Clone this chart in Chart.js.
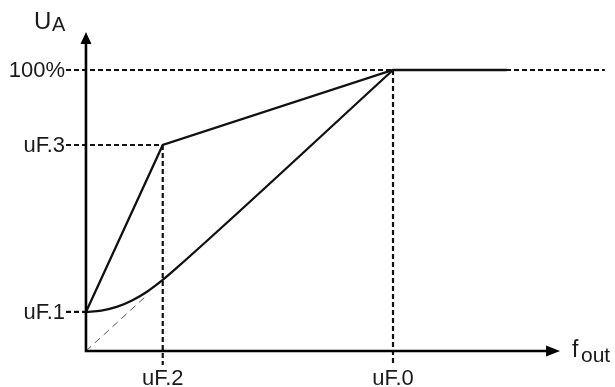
<!DOCTYPE html>
<html>
<head>
<meta charset="utf-8">
<script src="https://cdn.jsdelivr.net/npm/chart.js@4/dist/chart.umd.min.js"></script>
<style>
  html, body { margin: 0; padding: 0; background: #fff; }
  canvas { display: block; }
</style>
</head>
<body>
<canvas id="chart" width="615" height="387"></canvas>
<script>
// levels (x: % of uF.0, y: % of U_A max)
const uF0 = 100;
const uF2 = 25;
const uF1 = 13.9;
const uF3 = 73.3;
const full = 100;

const yTickValues = [full, uF3, uF1];
const yTickLabels = ['100%', 'uF.3', 'uF.1'];
const xTickValues = [uF2, uF0];
const xTickLabels = ['uF.2', 'uF.0'];

// linear V/f characteristic with boost
const lineX = [0, uF2, uF0, 137];
const lineY = [uF1, uF3, full, full];

// quadratic characteristic, starting at uF.1
const curveX = [0, 5, 10, 15, 20, 25, 30, uF0];
const curveY = [uF1, 14.4, 15.7, 18, 21.2, 25.3, 30, full];

// thin dashed reference from origin
const diagX = [0, 19];
const diagY = [0, 19];

const xMin = -28, xMax = 172.3;
const yMin = -12.8, yMax = 124.9;
const xArrow = 154.4, yArrow = 113.5;
const guideStart = -6.5;

const pts = (xs, ys) => xs.map((x, i) => ({ x: x, y: ys[i] }));

const dotted = (data) => ({
  data: data,
  borderColor: '#111',
  borderWidth: 2.2,
  borderDash: [5, 3],
  pointRadius: 0,
  showLine: true,
  order: 5
});

const axesPlugin = {
  id: 'axes',
  afterDatasetsDraw (chart) {
    const ctx = chart.ctx;
    const xs = chart.scales.x, ys = chart.scales.y;
    const x0 = xs.getPixelForValue(0), y0 = ys.getPixelForValue(0);
    const xt = xs.getPixelForValue(xArrow), yt = ys.getPixelForValue(yArrow);
    ctx.save();
    ctx.strokeStyle = '#000';
    ctx.fillStyle = '#000';
    ctx.lineWidth = 2.6;
    ctx.beginPath();
    ctx.moveTo(x0, y0);
    ctx.lineTo(xt - 10, y0);
    ctx.moveTo(x0, y0 + 1.3);
    ctx.lineTo(x0, yt + 8);
    ctx.stroke();
    // arrow heads
    ctx.beginPath();
    ctx.moveTo(xt, y0);
    ctx.lineTo(xt - 14, y0 - 5.5);
    ctx.lineTo(xt - 14, y0 + 5.5);
    ctx.closePath();
    ctx.fill();
    ctx.beginPath();
    ctx.moveTo(x0, yt);
    ctx.lineTo(x0 - 5.5, yt + 12);
    ctx.lineTo(x0 + 5.5, yt + 12);
    ctx.closePath();
    ctx.fill();

    // tick labels
    ctx.fillStyle = '#1a1a1a';
    ctx.font = '22px "Liberation Sans", Arial, sans-serif';
    ctx.textBaseline = 'middle';
    ctx.textAlign = 'right';
    const gx = xs.getPixelForValue(guideStart);
    yTickValues.forEach((v, i) => {
      ctx.fillText(yTickLabels[i], gx - 1, ys.getPixelForValue(v) + 1);
    });
    ctx.textAlign = 'center';
    ctx.textBaseline = 'alphabetic';
    xTickValues.forEach((v, i) => {
      ctx.fillText(xTickLabels[i], xs.getPixelForValue(v), 385);
    });

    // axis titles
    ctx.textAlign = 'left';
    ctx.font = '24px "Liberation Sans", Arial, sans-serif';
    ctx.fillText('U', 34, 29);
    ctx.font = '20px "Liberation Sans", Arial, sans-serif';
    ctx.fillText('A', 52, 31);
    ctx.font = '23px "Liberation Sans", Arial, sans-serif';
    ctx.fillText('f', 572, 357);
    ctx.font = '21px "Liberation Sans", Arial, sans-serif';
    ctx.fillText('out', 581, 362);
    ctx.restore();
  }
};

new Chart(document.getElementById('chart'), {
  type: 'scatter',
  data: {
    datasets: [
      {
        data: pts(lineX, lineY),
        borderColor: '#111',
        borderWidth: 2.3,
        pointRadius: 0,
        showLine: true,
        order: 1
      },
      {
        data: pts(curveX, curveY),
        borderColor: '#111',
        borderWidth: 2.3,
        pointRadius: 0,
        showLine: true,
        cubicInterpolationMode: 'monotone',
        order: 1
      },
      {
        data: pts(diagX, diagY),
        borderColor: '#555',
        borderWidth: 1,
        borderDash: [7, 5],
        pointRadius: 0,
        showLine: true,
        order: 3
      },
      dotted([{ x: guideStart, y: full }, { x: 169, y: full }]),
      dotted([{ x: guideStart, y: uF3 }, { x: uF2, y: uF3 }]),
      dotted([{ x: guideStart, y: uF1 }, { x: 0, y: uF1 }]),
      dotted([{ x: uF2, y: uF3 }, { x: uF2, y: -5 }]),
      dotted([{ x: uF0, y: full }, { x: uF0, y: -5 }])
    ]
  },
  options: {
    responsive: false,
    animation: false,
    layout: { padding: 0 },
    plugins: { legend: { display: false }, tooltip: { enabled: false } },
    scales: {
      x: { type: 'linear', min: xMin, max: xMax, display: false },
      y: { type: 'linear', min: yMin, max: yMax, display: false }
    }
  },
  plugins: [axesPlugin]
});
</script>
</body>
</html>
